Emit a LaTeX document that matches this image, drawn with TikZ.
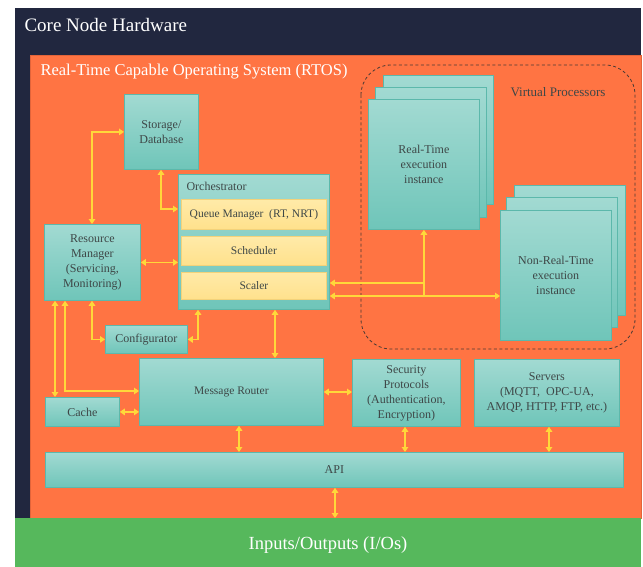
\documentclass[tikz,border=0pt]{standalone}
\usepackage{fontspec}
\setmainfont{Liberation Serif}
\usetikzlibrary{arrows.meta,calc}

\definecolor{navybg}{HTML}{21273F}
\definecolor{rtosbg}{HTML}{FF7443}
\definecolor{rtosedge}{HTML}{E2643A}
\definecolor{iobg}{HTML}{56B85C}
\definecolor{tealtop}{HTML}{A2DAD2}
\definecolor{tealbot}{HTML}{6FC5B9}
\definecolor{tealedge}{HTML}{5CB8AB}
\definecolor{ytop}{HTML}{FFEAA8}
\definecolor{ybot}{HTML}{FFE18C}
\definecolor{yedge}{HTML}{F3D27A}
\definecolor{arrowcol}{HTML}{FFD83A}
\definecolor{boxtext}{HTML}{3E4747}
\definecolor{dashcol}{HTML}{4A3A34}

\tikzset{
  tbox/.style={draw=tealedge, line width=0.8pt, top color=tealtop, bottom color=tealbot,
    inner sep=0pt, anchor=north west, align=center, text=boxtext,
    font=\fontsize{12}{15}\selectfont},
  ybox/.style={draw=yedge, line width=0.8pt, top color=ytop, bottom color=ybot,
    inner sep=0pt, anchor=north west, align=center, text=boxtext,
    font=\fontsize{11.5}{14}\selectfont},
  link/.style={draw=arrowcol, line width=1.8pt,
    {Triangle[length=5pt,width=6.5pt]}-{Triangle[length=5pt,width=6.5pt]}},
  wire/.style={draw=arrowcol, line width=1.8pt},
}

\begin{document}
\begin{tikzpicture}[x=1pt,y=-1pt]
\useasboundingbox (0,0) rectangle (643,567);

% layers: hardware, RTOS, I/O
\fill[navybg] (15,8) rectangle (641,520);
\node[anchor=west, text=white, font=\fontsize{19}{22}\selectfont] (hwtitle) at (21,25) {Core Node Hardware};
\filldraw[fill=rtosbg, draw=rtosedge, line width=0.6pt] (30,55) rectangle (641,518);
\node[anchor=west, text=white, font=\fontsize{16.5}{19}\selectfont] (rtostitle) at (37,72) {Real-Time Capable Operating System (RTOS)};
\fill[iobg] (15,518) rectangle (641,567);
\node[text=white, font=\fontsize{18.5}{22}\selectfont] (io) at (328,545) {Inputs/Outputs (I/Os)};
\coordinate (iotop) at (335,518);

% virtual processors group
\draw[dashcol, line width=0.8pt, dash pattern=on 3pt off 2.5pt, rounded corners=30pt] (361,65) rectangle (635,349);
\node[anchor=west, text=boxtext, font=\fontsize{13}{15}\selectfont] (vplabel) at (507,92) {Virtual Processors};

% real-time execution instances (stacked)
\node[tbox, minimum width=110pt, minimum height=129pt] (rt3) at (383,75) {};
\node[tbox, minimum width=111pt, minimum height=130pt] (rt2) at (375,87) {};
\node[tbox, minimum width=111pt, minimum height=130pt] (rt1) at (368,99) {Real-Time\\execution\\instance};

% non-real-time execution instances (stacked)
\node[tbox, minimum width=111pt, minimum height=130pt] (nrt3) at (514,185) {};
\node[tbox, minimum width=111pt, minimum height=130pt] (nrt2) at (506,197) {};
\node[tbox, minimum width=111pt, minimum height=130pt] (nrt1) at (500,210) {Non-Real-Time\\execution\\instance};

% core services
\node[tbox, minimum width=74pt, minimum height=75pt] (storage) at (124,94) {Storage/\\Database};
\node[tbox, minimum width=151pt, minimum height=135pt] (orch) at (178,174) {};
\node[anchor=west, text=boxtext, font=\fontsize{12}{15}\selectfont] (orchlabel) at (183,186) {Orchestrator};
\node[ybox, minimum width=145pt, minimum height=30pt] (queue) at (181,199) {Queue Manager\ \ (RT, NRT)};
\node[ybox, minimum width=145pt, minimum height=29pt] (sched) at (181,236) {Scheduler};
\node[ybox, minimum width=145pt, minimum height=27pt] (scaler) at (181,272) {Scaler};
\node[tbox, minimum width=96pt, minimum height=76pt] (rm) at (44,224) {Resource\\Manager\\(Servicing,\\Monitoring)};
\node[tbox, minimum width=82pt, minimum height=28pt] (config) at (105,325) {Configurator};
\node[tbox, minimum width=184pt, minimum height=67pt, font=\fontsize{11.5}{14}\selectfont] (mr) at (139,358) {Message Router};
\node[tbox, minimum width=74pt, minimum height=29pt] (cache) at (45,397) {Cache};
\node[tbox, minimum width=108pt, minimum height=67pt] (sec) at (352,359) {Security\\Protocols\\(Authentication,\\Encryption)};
\node[tbox, minimum width=145pt, minimum height=67pt] (srv) at (474,359) {Servers\\(MQTT,\ \ OPC-UA,\\AMQP, HTTP, FTP, etc.)};
\node[tbox, minimum width=578pt, minimum height=35pt] (api) at (45,452) {API};

% connectors
\draw[link] ($(rm.north west)+(48,0)$) |- (storage.west);
\draw[link] ($(storage.south west)+(37,0)$) |- ($(orch.north west)+(0,35)$);
\draw[link] (rm.east) -- (rm.east -| orch.west);
\draw[link] ($(rm.south west)+(11,0)$) -- ($(cache.north west)+(10,0)$);
\draw[link] ($(rm.south west)+(21,0)$) |- ($(mr.north west)+(0,33)$);
\draw[link] ($(rm.south west)+(48,0)$) |- (config.west);
\draw[link] (config.east) -| ($(orch.south west)+(20,0)$);
\draw[link] ($(orch.south west)+(97,0)$) -- ($(mr.north west)+(136,0)$);
\draw[link] (cache.east) -- (cache.east -| mr.west);
\draw[link] ($(mr.north east)+(0,34)$) coordinate (mrsec) -- (mrsec -| sec.west);
\draw[link] ($(mr.south west)+(100,0)$) -- ($(api.north west)+(194,0)$);
\draw[link] ($(sec.south west)+(53,0)$) -- ($(api.north west)+(360,0)$);
\draw[link] ($(srv.south west)+(75,0)$) -- ($(api.north west)+(504,0)$);
\draw[link] ($(api.south west)+(290,0)$) -- (iotop);

% orchestrator to the execution instances
\coordinate (ort) at ($(orch.north east)+(0,109)$);
\coordinate (onrt) at ($(orch.north east)+(0,122)$);
\draw[wire] (rt1.south |- onrt) -- (rt1.south |- ort);
\draw[link] (ort) -| (rt1.south);
\draw[link] (onrt) -- (onrt -| nrt1.west);
\end{tikzpicture}
\end{document}
